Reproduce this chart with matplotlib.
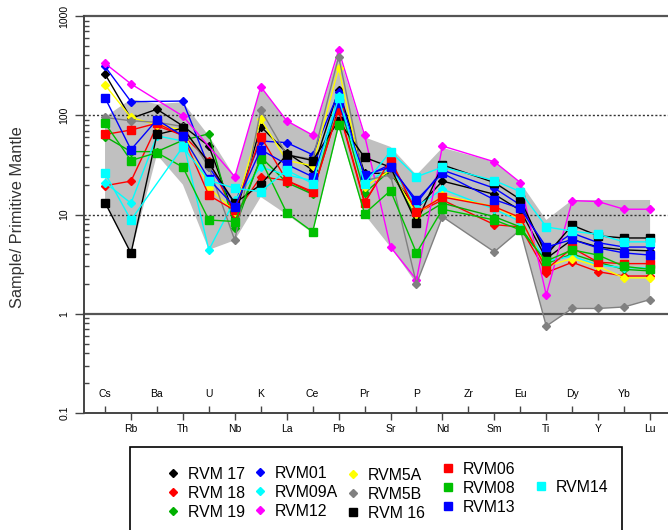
import numpy as np
import matplotlib.pyplot as plt
from matplotlib.lines import Line2D
from matplotlib.patches import Rectangle
import matplotlib.transforms as mtransforms

plt.rcParams['font.family'] = ['Liberation Sans', 'DejaVu Sans']

# element order of the spider diagram (Zr has no analyses)
elements = ['Cs', 'Rb', 'Ba', 'Th', 'U', 'Nb', 'K', 'La', 'Ce', 'Pb', 'Pr',
            'Sr', 'P', 'Nd', 'Zr', 'Sm', 'Eu', 'Ti', 'Dy', 'Y', 'Yb', 'Lu']
nan = np.nan

# sample / primitive mantle values
rvm17 = [260, 93, 115, 78, 49, 9.5, 77, 42, 28, 180, 26, 26, 11.4, 21.7, nan, 16, 11, 3.6, 5.6, 4.7, 4.4, 4.3]
rvm18 = [19.5, 21.7, 78, 63, 35, 10, 24, 22, 16.4, 118, 13.4, 34, 10.4, 14, nan, 7.9, 7.5, 2.6, 3.3, 2.65, 2.4, 2.4]
rvm19 = [61, 43, 43, 56, 65, 7.3, 38, 21, 16, 143, 16.4, 28, 9.0, 13, nan, 9.5, 7.5, 3.2, 4.0, 3.3, 2.8, 2.7]
rvm01 = [310, 137, nan, 139, 30, 13, 55, 53, 40, 170, 24, 32, 13, 28, nan, 18.4, 12.5, 4.3, 6.5, 5.2, 4.7, 4.7]
rvm09a = [21, 13, 62, 55, 4.4, 14, 30, 25, 22, 156, 20, 30, 12, 18, nan, 11.3, 8.5, 3.4, 3.8, 3.1, 2.9, 2.9]
rvm12 = [333, 207, nan, 98, nan, 24, 194, 88, 63, 454, 63, 4.7, 2.2, 49, nan, 34, 21, 1.55, 13.8, 13.5, 11.3, 11.3]
rvm5a = [202, 95, 80, 71, 18.5, 10.7, 91, 35, 31, 300, 19, 28, 10, 15.6, nan, 12, 9, 3.0, 3.6, 3.0, 2.3, 2.3]
rvm5b = [95, 88, 85, 77, 30, 5.5, 113, 40, 36, 389, 22, 25, 2.0, 9.5, nan, 4.2, 7.0, 0.75, 1.13, 1.13, 1.17, 1.39]
rvm16 = [13.2, 4.07, 64, 74, 33, 13, 20, 40, 35, 88, 37.6, 30, 8.2, 31.6, nan, 21, 14.2, 3.9, 7.8, 6.1, 5.8, 5.8]
rvm06 = [64, 71, 83, 62, 15.6, 11, 61, 22, 17, 113, 13, 36, 10.5, 15, nan, 12, 9.3, 2.8, 4.6, 3.3, 3.2, 3.2]
rvm08 = [83, 35, 42, 30, 8.8, 8.5, 36, 10.4, 6.7, 80, 10.2, 17.4, 4.1, 11.3, nan, 8.8, 7.0, 3.4, 4.4, 3.9, 3.0, 2.8]
rvm13 = [150, 45, 90, 62, 22.6, 12, 45, 32, 24, 133, 25, 30, 14, 26, nan, 14.1, 11.5, 4.7, 5.6, 4.6, 4.1, 3.9]
rvm14 = [26, 8.8, nan, 48, 22, 18.4, 17, 28, 20.5, 150, 20.5, 43, 24, 30, nan, 22, 17, 7.5, 6.8, 6.3, 5.3, 5.3]

# grey reference field
field_top = [96, 145, 130, 135, 62, 24, 194, 88, 63, 420, 60, 48, 25, 47, nan, 34, 21, 8.8, 14, 14, 14, 14]
field_bot = [13, 4.0, 40, 20, 4.4, 5.5, 15, 10, 6.5, 75, 10, 4.7, 2.0, 9.5, nan, 4.2, 7.0, 0.75, 1.13, 1.13, 1.17, 1.39]

series = [
    ('RVM 17', rvm17, 'black', 'D'),
    ('RVM 18', rvm18, 'red', 'D'),
    ('RVM 19', rvm19, '#00b000', 'D'),
    ('RVM01', rvm01, 'blue', 'D'),
    ('RVM09A', rvm09a, 'cyan', 'D'),
    ('RVM12', rvm12, 'magenta', 'D'),
    ('RVM5A', rvm5a, 'yellow', 'D'),
    ('RVM5B', rvm5b, 'grey', 'D'),
    ('RVM 16', rvm16, 'black', 's'),
    ('RVM06', rvm06, 'red', 's'),
    ('RVM08', rvm08, '#00c000', 's'),
    ('RVM13', rvm13, 'blue', 's'),
    ('RVM14', rvm14, 'cyan', 's'),
]

x = np.arange(1, len(elements) + 1)

fig = plt.figure(figsize=(6.68, 5.30), dpi=100)
ax = fig.add_axes([84 / 668, 1 - 413 / 530, 1 - 84 / 668, 397 / 530])

# grey field
top = np.array(field_top, float)
bot = np.array(field_bot, float)
ok = ~np.isnan(top)
ax.fill(np.r_[x[ok], x[ok][::-1]], np.r_[top[ok], bot[ok][::-1]],
        color='#c0c0c0', lw=0, zorder=1)

for name, vals, col, mk in series:
    v = np.array(vals, float)
    ok = ~np.isnan(v)
    ms = 3.6 if mk == 'D' else 5.2
    ax.plot(x[ok], v[ok], color=col, lw=1, marker=mk, ms=ms, zorder=3)

ax.set_yscale('log')
ax.set_ylim(0.1, 1000)
ax.set_xlim(0.19, 22.69)

for yv in (1000, 1):
    ax.axhline(yv, color='#555555', lw=1.6, zorder=2, clip_on=False)
for yv in (100, 10):
    ax.axhline(yv, color='#333333', lw=1, ls=(0, (1.5, 1.5)), zorder=2)

for s in ('top', 'right'):
    ax.spines[s].set_visible(False)
for s in ('left', 'bottom'):
    ax.spines[s].set_color('#444444')
    ax.spines[s].set_linewidth(1.4)

ax.set_yticks([0.1, 1, 10, 100, 1000])
ax.set_yticklabels(['0.1', '1', '10', '100', '1000'], rotation=90, va='center')
ax.tick_params(axis='y', which='major', direction='out', length=6.5, width=1,
               color='#444444', labelsize=7.5, pad=4)
ax.tick_params(axis='y', which='minor', direction='in', length=3.5, width=1,
               color='#444444')

lower = x[1::2]
upper = x[0::2]
ax.set_xticks(lower)
ax.set_xticklabels(elements[1::2])
ax.set_xticks(upper, minor=True)
ax.tick_params(axis='x', which='major', direction='out', length=5, width=1,
               color='#444444', labelsize=7.5, pad=3)
ax.tick_params(axis='x', which='minor', direction='in', length=5, width=1,
               color='#444444')
trans = mtransforms.blended_transform_factory(ax.transData, ax.transAxes)
for xi, lab in zip(upper, elements[0::2]):
    ax.text(xi, 0.047, lab, transform=trans, ha='center', va='center', fontsize=7.5)

fig.text(18 / 668, 1 - 217 / 530, 'Sample/ Primitive Mantle', rotation=90,
         ha='center', va='center', fontsize=11.8, color='#333333')

# legend: five columns placed like the original
handles = []
for name, vals, col, mk in series:
    handles.append(Line2D([], [], color=col, marker=mk, ls='none',
                          ms=3.6 if mk == 'D' else 5.2, label=name))
columns = [(handles[0:3], 173, 467), (handles[3:6], 260, 466),
           (handles[6:9], 353, 468), (handles[9:12], 448, 462),
           (handles[12:13], 541, 480)]
for hs, mx, ty in columns:
    leg = fig.legend(handles=hs, loc='upper left',
                     bbox_to_anchor=((mx - 6.3) / 668, 1 - ty / 530),
                     frameon=False, fontsize=11.4, handlelength=0.8,
                     handletextpad=0.55, labelspacing=0.25, borderpad=0,
                     borderaxespad=0)
fig.patches.append(Rectangle((130 / 668, -0.05), 492 / 668, 83 / 530 + 0.05,
                             transform=fig.transFigure, fill=False,
                             ec='black', lw=1.2))

fig.savefig('out.png', dpi=100)
